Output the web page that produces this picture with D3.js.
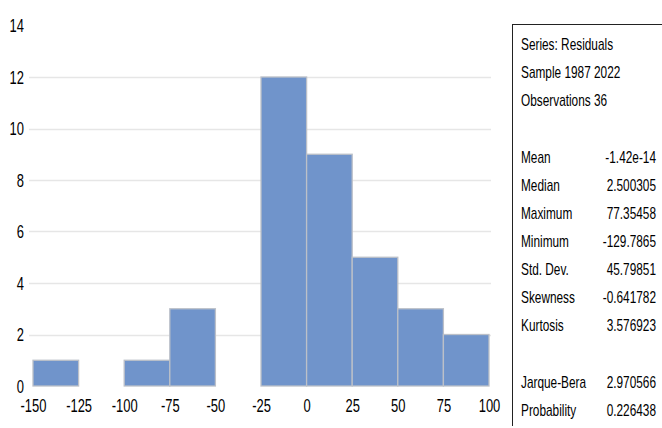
<!DOCTYPE html>
<html>
<head>
<meta charset="utf-8">
<script src="https://cdn.jsdelivr.net/npm/d3@7"></script>
<style>
  html, body { margin: 0; padding: 0; background: #fff; }
  svg text { font-family: "Liberation Sans", Arial, sans-serif; fill: #000; }
</style>
</head>
<body>
<svg id="chart" width="662" height="428"></svg>
<script>
// Histogram bins of the residuals (lower edge, upper edge, count)
const binStarts = [-150, -125, -100, -75, -50, -25, 0, 25, 50, 75];
const binEnds   = [-125, -100, -75, -50, -25, 0, 25, 50, 75, 100];
const counts    = [1, 0, 1, 3, 0, 12, 9, 5, 3, 2];

const xTicks = [-150, -125, -100, -75, -50, -25, 0, 25, 50, 75, 100];
const yTicks = [0, 2, 4, 6, 8, 10, 12, 14];

// Descriptive statistics panel
const headerLines = ["Series: Residuals", "Sample 1987 2022", "Observations 36"];
const statNames  = ["Mean", "Median", "Maximum", "Minimum", "Std. Dev.", "Skewness", "Kurtosis"];
const statValues = ["-1.42e-14", "2.500305", "77.35458", "-129.7865", "45.79851", "-0.641782", "3.576923"];
const testNames  = ["Jarque-Bera", "Probability"];
const testValues = ["2.970566", "0.226438"];

// narrow lettering: glyphs are squeezed horizontally
const AXIS_SQUEEZE = 0.72;
const PANEL_SQUEEZE = 0.74;

const svg = d3.select("#chart");

const x = d3.scaleLinear().domain([-150, 100]).range([33, 489]);
const y = d3.scaleLinear().domain([0, 14]).range([386, 25.5]);

// gridlines
svg.append("g")
  .selectAll("line")
  .data(yTicks.filter(d => d > 0 && d < 14))
  .join("line")
  .attr("x1", 29).attr("x2", 491)
  .attr("y1", d => Math.round(y(d)) + 0.5)
  .attr("y2", d => Math.round(y(d)) + 0.5)
  .attr("stroke", "#e6e6e6")
  .attr("stroke-width", 1.3);

// bars
const bins = counts.map((c, i) => ({ x0: binStarts[i], x1: binEnds[i], n: c })).filter(d => d.n > 0);
svg.append("g")
  .selectAll("rect")
  .data(bins)
  .join("rect")
  .attr("x", d => x(d.x0))
  .attr("width", d => x(d.x1) - x(d.x0))
  .attr("y", d => y(d.n))
  .attr("height", d => y(0) - y(d.n))
  .attr("fill", "#7094cb")
  .attr("stroke", "#bcc0c8")
  .attr("stroke-width", 1.3);

// y axis labels
const yAxis = d3.axisLeft(y).tickValues(yTicks).tickSize(0).tickPadding(0).tickFormat(d => String(d));
svg.append("g")
  .attr("transform", "translate(24,0)")
  .call(yAxis)
  .call(g => g.select(".domain").remove())
  .call(g => g.selectAll("text")
    .attr("font-size", 18)
    .attr("font-family", null)
    .attr("x", 0)
    .attr("dy", "0.35em")
    .attr("transform", `scale(${AXIS_SQUEEZE},1)`));

// x axis labels
const xAxis = d3.axisBottom(x).tickValues(xTicks).tickSize(0).tickPadding(0).tickFormat(d => String(d));
svg.append("g")
  .attr("transform", "translate(0,398)")
  .call(xAxis)
  .call(g => g.select(".domain").remove())
  .call(g => g.selectAll("text")
    .attr("font-size", 18)
    .attr("font-family", null)
    .attr("dy", "0.8em")
    .attr("transform", `scale(${AXIS_SQUEEZE},1)`));

// statistics box: top and left borders
svg.append("line").attr("x1", 512).attr("x2", 662).attr("y1", 24.5).attr("y2", 24.5)
  .attr("stroke", "#222").attr("stroke-width", 1);
svg.append("line").attr("x1", 512.5).attr("x2", 512.5).attr("y1", 24).attr("y2", 426)
  .attr("stroke", "#222").attr("stroke-width", 1);

const panel = svg.append("g").attr("font-size", 16);
function panelText(px, py, txt, anchor) {
  panel.append("g")
    .attr("transform", `translate(${px},${py}) scale(${PANEL_SQUEEZE},1)`)
    .append("text")
    .attr("text-anchor", anchor || "start")
    .text(txt);
}
const rowH = 28;
headerLines.forEach((t, i) => panelText(521, 50 + i * rowH, t));
statNames.forEach((t, i) => {
  const yy = 163 + i * rowH;
  panelText(521, yy, t);
  panelText(656, yy, statValues[i], "end");
});
testNames.forEach((t, i) => {
  const yy = 388 + i * rowH;
  panelText(521, yy, t);
  panelText(656, yy, testValues[i], "end");
});
</script>
</body>
</html>
